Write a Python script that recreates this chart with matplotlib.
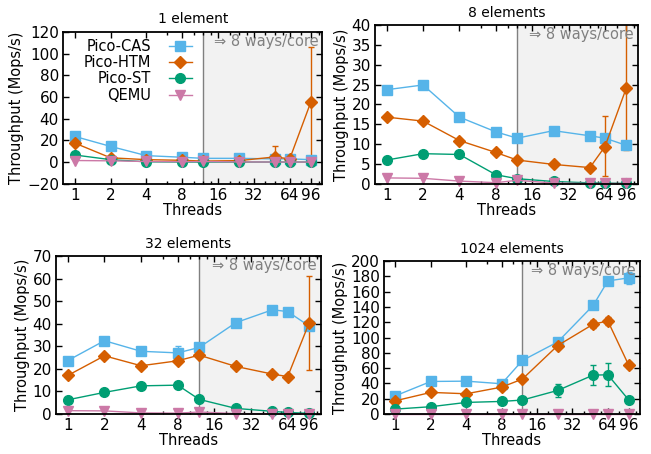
import numpy as np
import matplotlib
matplotlib.use("Agg")
import matplotlib.pyplot as plt
from matplotlib.ticker import FixedLocator, NullFormatter

plt.rcParams['font.family'] = ['DejaVu Sans']
plt.rcParams['font.size'] = 10

threads = [1, 2, 4, 8, 12, 24, 48, 64, 96]
tick_vals = [1, 2, 4, 8, 16, 32, 64, 96]
minor_vals = [6, 10, 12, 14, 20, 24, 28, 40, 48, 56, 80, 112]
series = ["Pico-CAS", "Pico-HTM", "Pico-ST", "QEMU"]

# 1 element
cas_1 = [23.7, 14.5, 6.0, 4.5, 3.5, 3.5, 3.0, 3.0, 2.3]
htm_1 = [17.6, 4.0, 2.3, 1.7, 1.0, 1.4, 4.8, 3.0, 55.0]
st_1 = [6.6, 2.3, 0.3, 0.1, 0.1, 0.1, 0.1, 0.1, 0.1]
qemu_1 = [1.5, 1.2, 0.6, 0.4, 0.6, 0.2, 0.1, 0.1, 0.1]
htm_1_lo = [0, 0, 0, 0, 0, 0, 4.8, 0, 51.0]
htm_1_hi = [0, 0, 0, 0, 0, 0, 9.7, 0, 51.0]

# 8 elements
cas_8 = [23.7, 24.9, 16.8, 13.1, 11.5, 13.4, 12.1, 11.5, 9.7]
htm_8 = [16.8, 15.8, 10.9, 7.9, 6.0, 4.9, 4.1, 9.4, 24.1]
st_8 = [6.0, 7.6, 7.4, 2.3, 1.3, 0.6, 0.25, 0.2, 0.1]
qemu_8 = [1.5, 1.4, 0.7, 0.3, 0.9, 0.2, 0.1, 0.1, 0.1]
htm_8_lo = [0, 0, 0, 0, 0, 0, 0, 7.5, 15.5]
htm_8_hi = [0, 0, 0, 0, 0, 0, 0, 7.7, 18.0]

# 32 elements
cas_32 = [23.7, 32.5, 27.8, 27.1, 29.5, 40.5, 46.2, 45.4, 39.0]
htm_32 = [17.1, 25.8, 21.4, 23.6, 26.1, 21.1, 17.7, 16.6, 40.4]
st_32 = [6.3, 9.6, 12.5, 12.8, 6.5, 2.5, 1.2, 0.7, 0.3]
qemu_32 = [1.5, 1.4, 0.5, 0.4, 0.9, 0.2, 0.1, 0.1, 0.1]
cas_32_lo = [0, 0, 0, 2.0, 0, 0, 0, 0, 0]
cas_32_hi = [0, 0, 0, 3.0, 0, 0, 0, 0, 0]
htm_32_lo = [0, 0, 0, 0, 0, 0, 0, 0, 21.0]
htm_32_hi = [0, 0, 0, 0, 0, 0, 0, 0, 20.9]

# 1024 elements
cas_1024 = [23.9, 42.6, 43.0, 39.6, 70.0, 94.3, 142.0, 174.0, 178.0]
htm_1024 = [17.4, 28.3, 26.5, 35.2, 45.7, 89.6, 117.4, 121.7, 64.3]
st_1024 = [6.5, 9.6, 15.2, 16.5, 18.3, 30.9, 50.9, 51.3, 18.7]
qemu_1024 = [0.5, 0.5, 0.5, 0.5, 0.5, 0.5, 0.5, 0.5, 0.5]
cas_1024_err = [0, 0, 0, 0, 0, 0, 5, 4, 8]
htm_1024_err = [0, 0, 0, 0, 0, 0, 5, 5, 4]
st_1024_lo = [0, 0, 0, 0, 0, 8, 13, 14, 0]
st_1024_hi = [0, 0, 0, 0, 0, 8, 13, 15, 0]

colors = {"Pico-CAS": "#56B4E9", "Pico-HTM": "#D55E00",
          "Pico-ST": "#009E73", "QEMU": "#CC79A7"}
markers = {"Pico-CAS": ("s", 6.5), "Pico-HTM": ("D", 6),
           "Pico-ST": ("o", 7), "QEMU": ("v", 7.5)}

panels = [
    ("1 element", [0.097, 0.595, 0.398, 0.335], (-20, 120), 20,
     [cas_1, htm_1, st_1, qemu_1],
     [None, [htm_1_lo, htm_1_hi], None, None]),
    ("8 elements", [0.576, 0.595, 0.404, 0.350], (0, 40), 5,
     [cas_8, htm_8, st_8, qemu_8],
     [None, [htm_8_lo, htm_8_hi], None, None]),
    ("32 elements", [0.086, 0.088, 0.407, 0.348], (0, 70), 10,
     [cas_32, htm_32, st_32, qemu_32],
     [[cas_32_lo, cas_32_hi], [htm_32_lo, htm_32_hi], None, None]),
    ("1024 elements", [0.590, 0.088, 0.393, 0.337], (0, 200), 20,
     [cas_1024, htm_1024, st_1024, qemu_1024],
     [cas_1024_err, htm_1024_err, [st_1024_lo, st_1024_hi], None]),
]

fig = plt.figure(figsize=(6.51, 4.54), dpi=100)

for idx, (title, rect, ylim, ystep, data, errs) in enumerate(panels):
    ax = fig.add_axes(rect)
    ax.set_xscale("log")
    ax.set_xlim(0.8, 120)
    ax.set_ylim(*ylim)
    ax.axvspan(12, 120, color="#f2f2f2", zorder=0, lw=0)
    ax.axvline(12, color="#808080", lw=1, zorder=1)
    for name, vals, err in zip(series, data, errs):
        m, ms = markers[name]
        c = colors[name]
        ax.plot(threads, vals, color=c, lw=1, marker=m, ms=ms, label=name,
                zorder=3, clip_on=False)
        if err is not None:
            ax.errorbar(threads, vals, yerr=err, fmt="none", ecolor=c,
                        elinewidth=1, capsize=2.5, capthick=1, zorder=2)
    ax.xaxis.set_major_locator(FixedLocator(tick_vals))
    ax.xaxis.set_minor_locator(FixedLocator(minor_vals))
    ax.xaxis.set_minor_formatter(NullFormatter())
    ax.set_xticklabels([str(t) for t in tick_vals])
    ax.set_yticks(np.arange(ylim[0], ylim[1] + 1, ystep))
    ax.set_yticklabels([str(v).replace("-", "\u2212") for v in
                        np.arange(ylim[0], ylim[1] + 1, ystep)])
    ax.tick_params(which="both", direction="in", top=True, right=True,
                   labelsize=11, pad=3)
    ax.tick_params(which="major", length=4, width=1)
    ax.tick_params(which="minor", length=2.5, width=1)
    for sp in ax.spines.values():
        sp.set_linewidth(1.3)
        sp.set_zorder(5)
    ax.set_xlabel("Threads", labelpad=0, fontsize=10.5)
    ax.set_ylabel("Throughput (Mops/s)", labelpad=2, fontsize=10.5)
    ax.set_title(title, fontsize=10, pad=6)
    ax.text(0.985, 0.985, "\u21d2 8 ways/core", transform=ax.transAxes,
            ha="right", va="top", color="#808080", fontsize=10.5, zorder=4)
    if idx == 0:
        ax.legend(loc="upper right", bbox_to_anchor=(0.52, 0.99),
                  markerfirst=False, frameon=False, handlelength=1.6,
                  handletextpad=1.2, labelspacing=0.08, borderaxespad=0.0,
                  fontsize=10.5)

fig.savefig("out.png", dpi=100)
